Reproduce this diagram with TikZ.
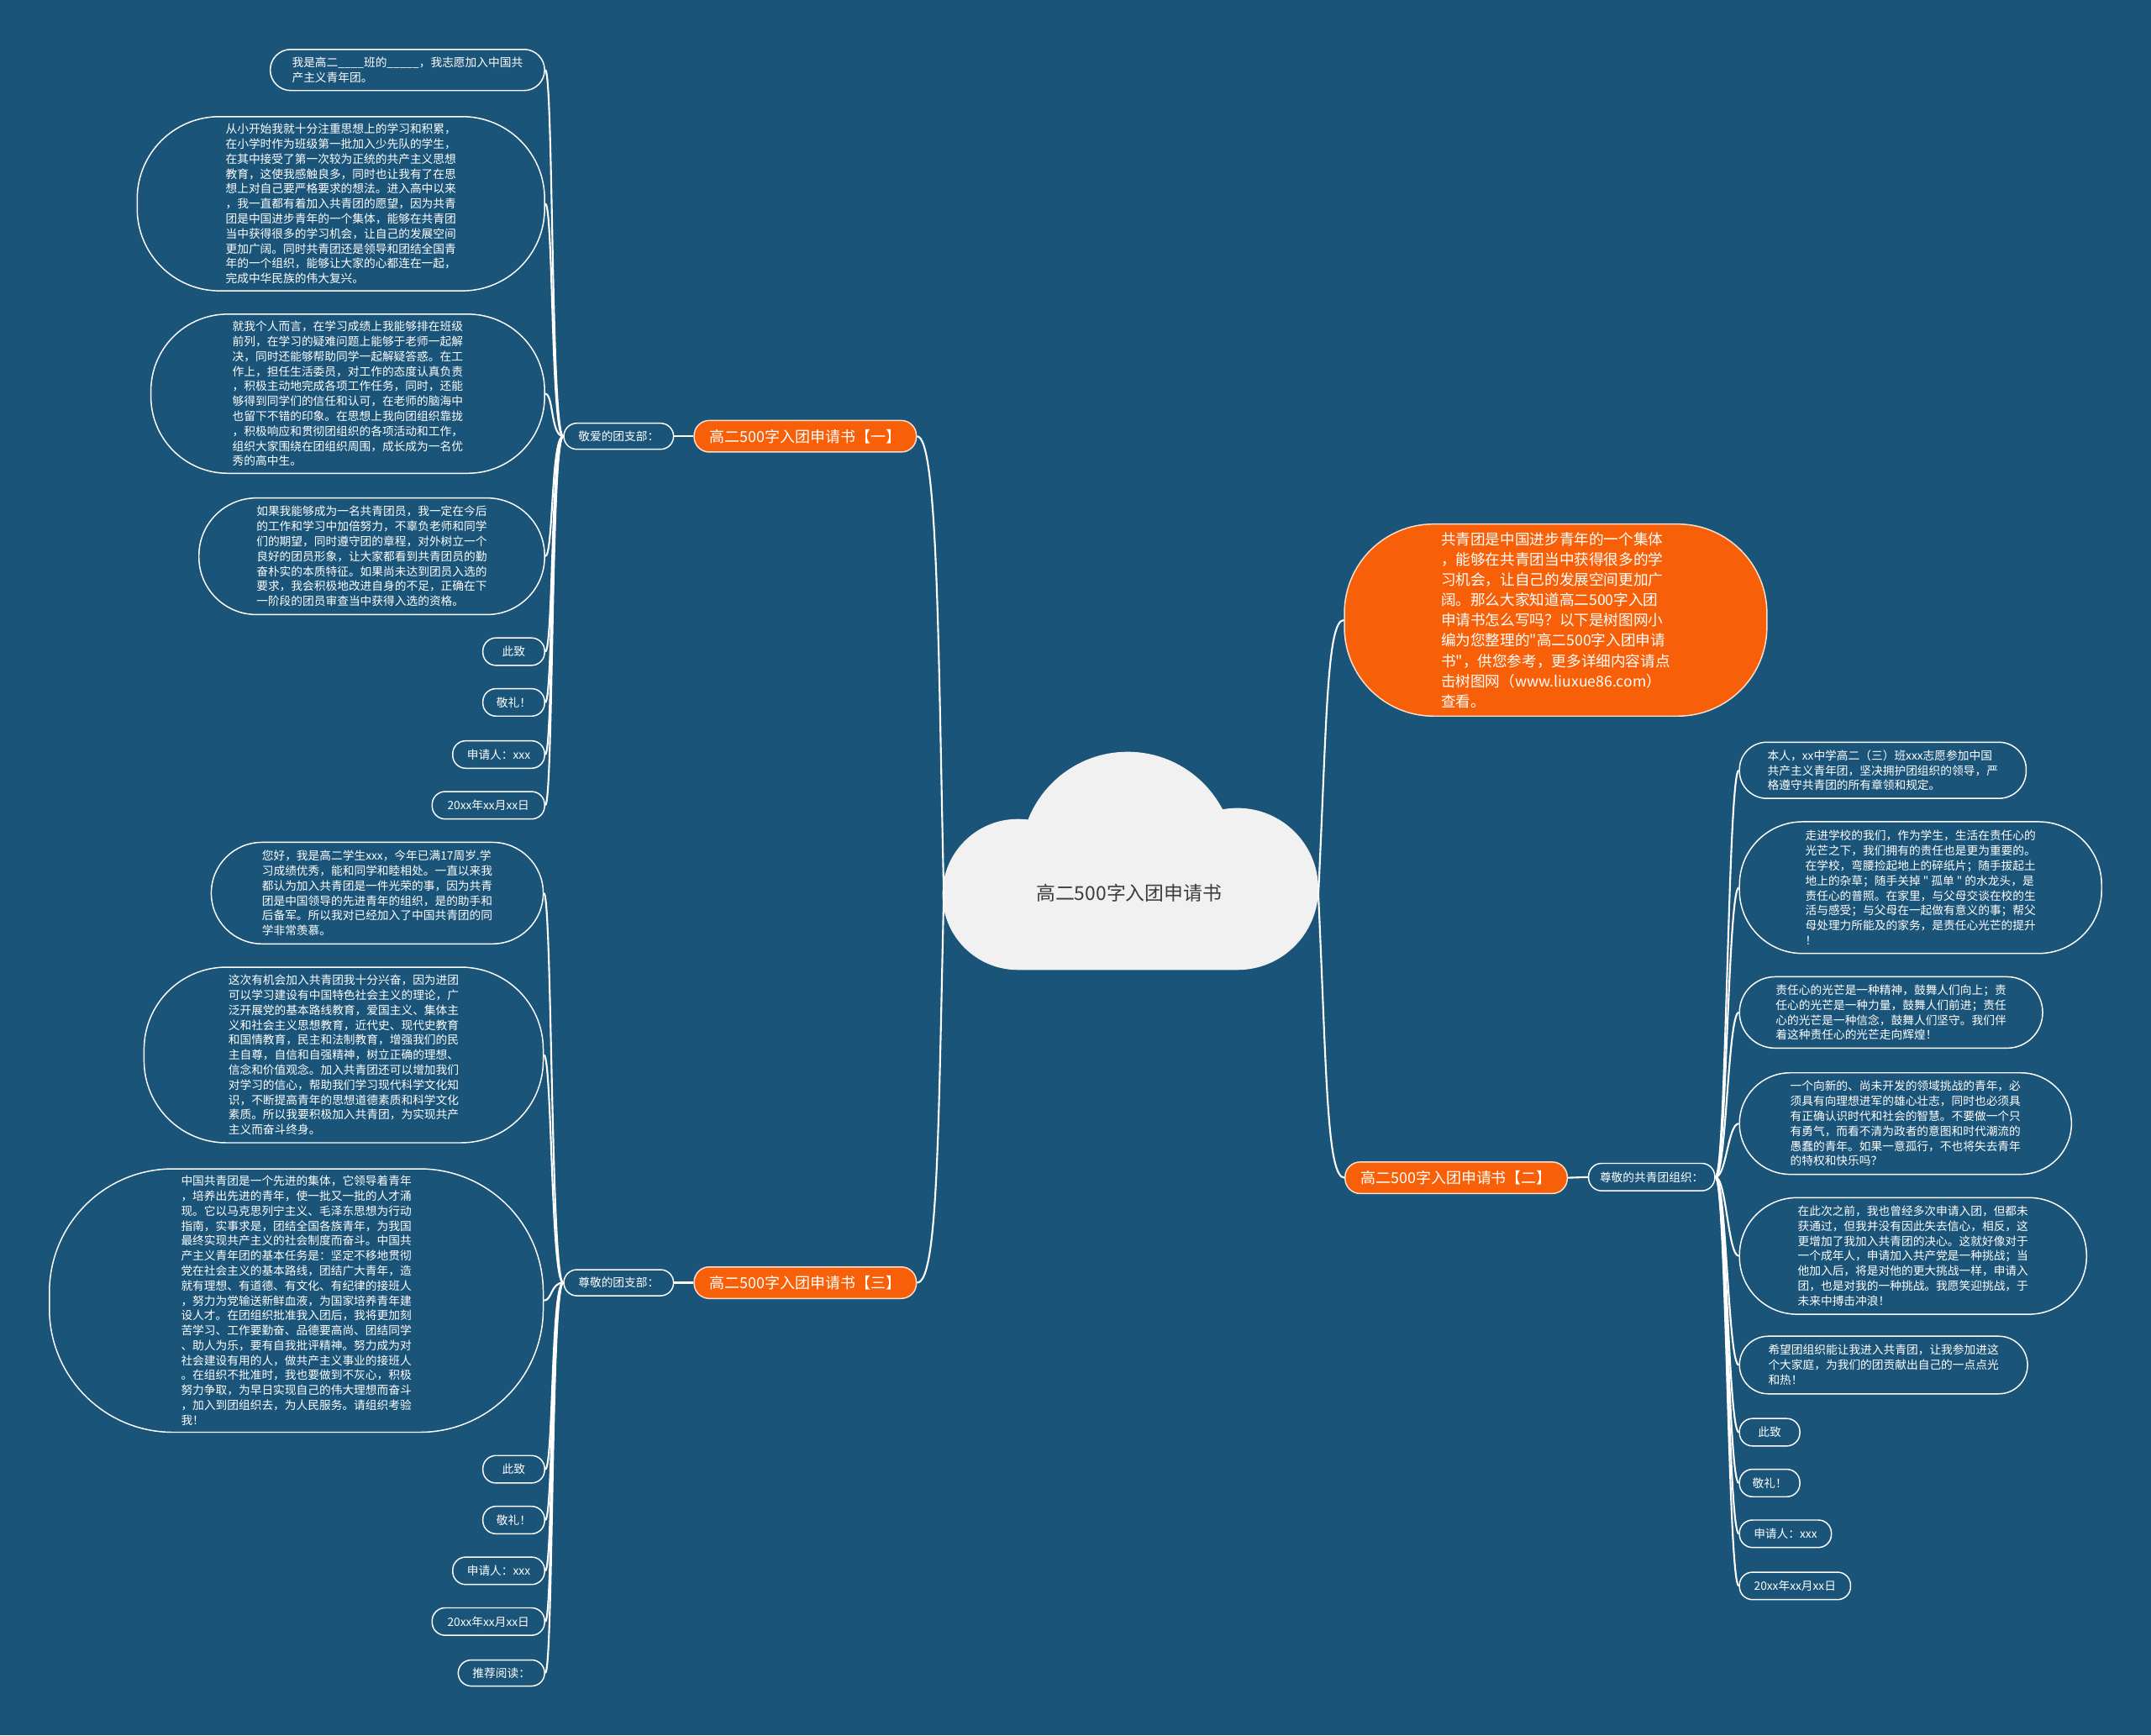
\documentclass[tikz,border=0pt]{standalone}
\usepackage{fontspec}
\setmainfont{Noto Sans CJK SC}
\usetikzlibrary{positioning}
\definecolor{mapblue}{RGB}{26, 84, 120}
\definecolor{branchorange}{RGB}{247, 96, 8}
\definecolor{cloudgray}{RGB}{241, 241, 241}
\definecolor{cloudtext}{RGB}{60, 60, 60}

\begin{document}
\begin{tikzpicture}[x=1pt, y=-1pt,
    every node/.style={text=white, inner sep=0pt},
    leaf/.style={draw=white, line width=0.9pt, rounded corners=#1, align=left, font=\fontsize{8.4}{10.9}\selectfont},
    tag/.style={draw=white, line width=0.9pt, rounded corners=9.5pt, font=\fontsize{8.4}{10.9}\selectfont, minimum width=80pt, minimum height=19pt},
    branch/.style={fill=branchorange, draw=white!80!branchorange, line width=0.9pt, rounded corners=11pt, font=\fontsize{11}{13}\selectfont, minimum width=162pt, minimum height=23pt},
    link/.style={draw=white, line width=1.3pt}]
    \fill[mapblue] (0,0) rectangle (1568,1265);

    \fill[cloudgray] (822,626) circle (78pt) (742,652) circle (55pt) (902,648) circle (59pt) (742,652) rectangle (902,707);
    \node[text=cloudtext, font=\fontsize{14}{16}\selectfont] (root) at (823,651) {高二500字入团申请书};
    \coordinate (rootW) at (688,652);
    \coordinate (rootE) at (961,652);

    \node[branch] (b1) at (587,318) {高二500字入团申请书【一】};
    \node[tag] (t1) at (451,318) {敬爱的团支部：};

    \node[leaf=15pt, minimum width=200pt, minimum height=30pt] (a1) at (297,51) {我是高二\_\_\_\_班的\_\_\_\_\_，我志愿加入中国共\\产主义青年团。};
    \node[leaf=60pt, minimum width=297pt, minimum height=127pt] (a2) at (248.5,148.5) {从小开始我就十分注重思想上的学习和积累，\\在小学时作为班级第一批加入少先队的学生，\\在其中接受了第一次较为正统的共产主义思想\\教育，这使我感触良多，同时也让我有了在思\\想上对自己要严格要求的想法。进入高中以来\\，我一直都有着加入共青团的愿望，因为共青\\团是中国进步青年的一个集体，能够在共青团\\当中获得很多的学习机会，让自己的发展空间\\更加广阔。同时共青团还是领导和团结全国青\\年的一个组织，能够让大家的心都连在一起，\\完成中华民族的伟大复兴。};
    \node[leaf=56pt, minimum width=287pt, minimum height=116pt] (a3) at (253.5,287) {就我个人而言，在学习成绩上我能够排在班级\\前列，在学习的疑难问题上能够于老师一起解\\决，同时还能够帮助同学一起解疑答惑。在工\\作上，担任生活委员，对工作的态度认真负责\\，积极主动地完成各项工作任务，同时，还能\\够得到同学们的信任和认可，在老师的脑海中\\也留下不错的印象。在思想上我向团组织靠拢\\，积极响应和贯彻团组织的各项活动和工作，\\组织大家围绕在团组织周围，成长成为一名优\\秀的高中生。};
    \node[leaf=42pt, minimum width=252pt, minimum height=85pt] (a4) at (271,405.5) {如果我能够成为一名共青团员，我一定在今后\\的工作和学习中加倍努力，不辜负老师和同学\\们的期望，同时遵守团的章程，对外树立一个\\良好的团员形象，让大家都看到共青团员的勤\\奋朴实的本质特征。如果尚未达到团员入选的\\要求，我会积极地改进自身的不足，正确在下\\一阶段的团员审查当中获得入选的资格。};
    \node[tag, minimum width=45pt, minimum height=20pt] (a5) at (374.5,475) {此致};
    \node[tag, minimum width=45pt, minimum height=20pt] (a6) at (374.5,512) {敬礼！};
    \node[tag, minimum width=67pt, minimum height=20pt] (a7) at (363.5,550) {申请人：xxx};
    \node[tag, minimum width=82pt, minimum height=20pt] (a8) at (356,587) {20xx年xx月xx日};

    \node[branch] (b3) at (587,935) {高二500字入团申请书【三】};
    \node[tag] (t3) at (451,935) {尊敬的团支部：};

    \node[leaf=37pt, minimum width=242pt, minimum height=74pt] (d1) at (275,651) {您好，我是高二学生xxx，今年已满17周岁.学\\习成绩优秀，能和同学和睦相处。一直以来我\\都认为加入共青团是一件光荣的事，因为共青\\团是中国领导的先进青年的组织，是的助手和\\后备军。所以我对已经加入了中国共青团的同\\学非常羡慕。};
    \node[leaf=60pt, minimum width=291pt, minimum height=128pt] (d2) at (250.5,769) {这次有机会加入共青团我十分兴奋，因为进团\\可以学习建设有中国特色社会主义的理论，广\\泛开展党的基本路线教育，爱国主义、集体主\\义和社会主义思想教育，近代史、现代史教育\\和国情教育，民主和法制教育，增强我们的民\\主自尊，自信和自强精神，树立正确的理想、\\信念和价值观念。加入共青团还可以增加我们\\对学习的信心，帮助我们学习现代科学文化知\\识，不断提高青年的思想道德素质和科学文化\\素质。所以我要积极加入共青团，为实现共产\\主义而奋斗终身。};
    \node[leaf=90pt, minimum width=360pt, minimum height=192pt] (d3) at (216,948) {中国共青团是一个先进的集体，它领导着青年\\，培养出先进的青年，使一批又一批的人才涌\\现。它以马克思列宁主义、毛泽东思想为行动\\指南，实事求是，团结全国各族青年，为我国\\最终实现共产主义的社会制度而奋斗。中国共\\产主义青年团的基本任务是：坚定不移地贯彻\\党在社会主义的基本路线，团结广大青年，造\\就有理想、有道德、有文化、有纪律的接班人\\，努力为党输送新鲜血液，为国家培养青年建\\设人才。在团组织批准我入团后，我将更加刻\\苦学习、工作要勤奋、品德要高尚、团结同学\\、助人为乐，要有自我批评精神。努力成为对\\社会建设有用的人，做共产主义事业的接班人\\。在组织不批准时，我也要做到不灰心，积极\\努力争取，为早日实现自己的伟大理想而奋斗\\，加入到团组织去，为人民服务。请组织考验\\我！};
    \node[tag, minimum width=45pt, minimum height=20pt] (d4) at (374.5,1071) {此致};
    \node[tag, minimum width=45pt, minimum height=20pt] (d5) at (374.5,1108) {敬礼！};
    \node[tag, minimum width=67pt, minimum height=20pt] (d6) at (363.5,1145) {申请人：xxx};
    \node[tag, minimum width=82pt, minimum height=20pt] (d7) at (356,1182) {20xx年xx月xx日};
    \node[tag, minimum width=63pt, minimum height=19pt] (d8) at (365.5,1219.5) {推荐阅读：};

    \node[fill=branchorange, draw=white!80!branchorange, line width=0.9pt, rounded corners=65pt, minimum width=308pt, minimum height=140pt, align=left, font=\fontsize{10.8}{14.8}\selectfont] (intro) at (1134,452) {共青团是中国进步青年的一个集体\\，能够在共青团当中获得很多的学\\习机会，让自己的发展空间更加广\\阔。那么大家知道高二500字入团\\申请书怎么写吗？以下是树图网小\\编为您整理的\textquotedbl 高二500字入团申请\\书\textquotedbl ，供您参考，更多详细内容请点\\击树图网（www.liuxue86.com）\\查看。};

    \node[branch] (b2) at (1061.5,858.5) {高二500字入团申请书【二】};
    \node[tag, minimum width=92pt, minimum height=20pt] (t2) at (1204,858) {尊敬的共青团组织：};

    \node[leaf=20pt, minimum width=209pt, minimum height=41pt] (c1) at (1372.5,561.5) {本人，xx中学高二（三）班xxx志愿参加中国\\共产主义青年团，坚决拥护团组织的领导，严\\格遵守共青团的所有章领和规定。};
    \node[leaf=46pt, minimum width=264pt, minimum height=96pt] (c2) at (1400,647) {走进学校的我们，作为学生，生活在责任心的\\光芒之下，我们拥有的责任也是更为重要的。\\在学校，弯腰捡起地上的碎纸片；随手拔起土\\地上的杂草；随手关掉 \textquotedbl{} 孤单 \textquotedbl{} 的水龙头，是\\责任心的普照。在家里，与父母交谈在校的生\\活与感受；与父母在一起做有意义的事；帮父\\母处理力所能及的家务，是责任心光芒的提升\\！};
    \node[leaf=26pt, minimum width=221pt, minimum height=52pt] (c3) at (1378.5,738) {责任心的光芒是一种精神，鼓舞人们向上；责\\任心的光芒是一种力量，鼓舞人们前进；责任\\心的光芒是一种信念，鼓舞人们坚守。我们伴\\着这种责任心的光芒走向辉煌！};
    \node[leaf=37pt, minimum width=242pt, minimum height=74pt] (c4) at (1389,819) {一个向新的、尚未开发的领域挑战的青年，必\\须具有向理想进军的雄心壮志，同时也必须具\\有正确认识时代和社会的智慧。不要做一个只\\有勇气，而看不清为政者的意图和时代潮流的\\愚蠢的青年。如果一意孤行，不也将失去青年\\的特权和快乐吗？};
    \node[leaf=42pt, minimum width=253pt, minimum height=85pt] (c5) at (1394.5,915.5) {在此次之前，我也曾经多次申请入团，但都未\\获通过，但我并没有因此失去信心，相反，这\\更增加了我加入共青团的决心。这就好像对于\\一个成年人，申请加入共产党是一种挑战；当\\他加入后，将是对他的更大挑战一样，申请入\\团，也是对我的一种挑战。我愿笑迎挑战，于\\未来中搏击冲浪！};
    \node[leaf=21pt, minimum width=210pt, minimum height=42pt] (c6) at (1373,995) {希望团组织能让我进入共青团，让我参加进这\\个大家庭，为我们的团贡献出自己的一点点光\\和热！};
    \node[tag, minimum width=44pt, minimum height=20pt] (c7) at (1290,1044) {此致};
    \node[tag, minimum width=44pt, minimum height=20pt] (c8) at (1290,1081) {敬礼！};
    \node[tag, minimum width=67pt, minimum height=20pt] (c9) at (1301.5,1118) {申请人：xxx};
    \node[tag, minimum width=81pt, minimum height=20pt] (c10) at (1308.5,1156) {20xx年xx月xx日};

    \draw[link] (rootW) .. controls (684,480) and (684,318) .. (b1.east);
    \draw[link] (rootW) .. controls (684,820) and (684,935) .. (b3.east);
    \draw[link] (rootE) .. controls (967,530) and (967,452) .. (intro.west);
    \draw[link] (rootE) .. controls (967,780) and (967,858.5) .. (b2.west);

    \draw[link] (b1.west) -- (t1.east);
    \draw[link] (b3.west) -- (t3.east);
    \draw[link] (b2.east) -- (t2.west);

    \foreach \i in {1,...,8}
        \draw[link] (t1.west) .. controls +(-9,0) and +(6,0) .. (a\i.east);
    \foreach \i in {1,...,8}
        \draw[link] (t3.west) .. controls +(-9,0) and +(6,0) .. (d\i.east);
    \foreach \i in {1,...,10}
        \draw[link] (t2.east) .. controls +(8,0) and +(-8,0) .. (c\i.west);
\end{tikzpicture}
\end{document}
